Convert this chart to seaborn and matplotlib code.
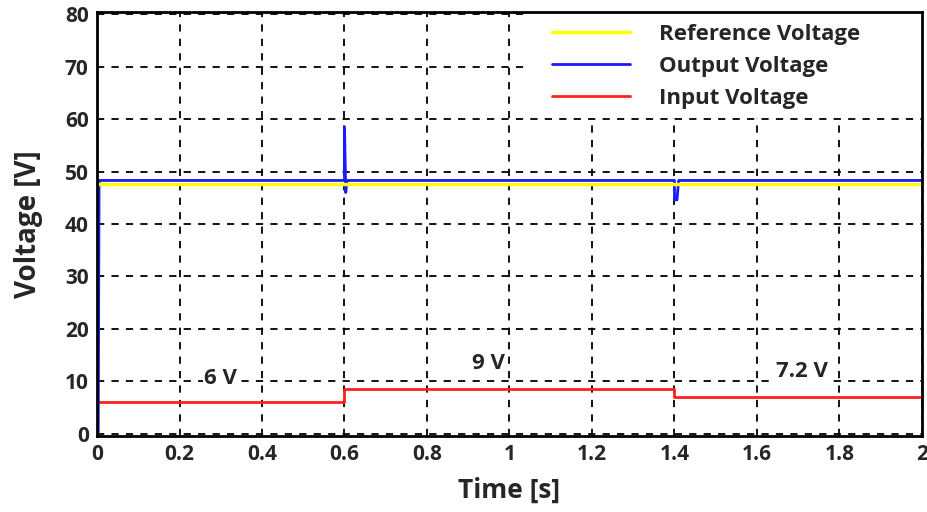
import matplotlib
matplotlib.use("Agg")
import matplotlib.pyplot as plt
from matplotlib.patches import Rectangle
import seaborn as sns

# Data
t_ref = [0.0, 2.0]
v_ref = [47.7, 47.7]

t_out = [0.003, 0.005, 0.6, 0.6, 0.603, 0.606, 0.61, 1.4, 1.4, 1.406, 1.41, 2.0]
v_out = [0.0, 48.3, 48.3, 58.5, 46.0, 48.3, 48.3, 48.3, 44.6, 44.6, 48.3, 48.3]

t_in = [0.0, 0.6, 0.6, 1.4, 1.4, 2.0]
v_in = [6.0, 6.0, 8.6, 8.6, 7.0, 7.0]

x_ticks = [0, 0.2, 0.4, 0.6, 0.8, 1, 1.2, 1.4, 1.6, 1.8, 2]
x_tick_labels = ["0", "0.2", "0.4", "0.6", "0.8", "1", "1.2", "1.4", "1.6", "1.8", "2"]
y_ticks = [0, 10, 20, 30, 40, 50, 60, 70, 80]

annotations = ["6 V", "9 V", "7.2 V"]
annot_x = [0.3, 0.95, 1.71]
annot_y = [10.6, 13.5, 11.8]

sns.set_style("white")
plt.rcParams['font.family'] = ['Open Sans', 'DejaVu Sans']
plt.rcParams['font.weight'] = 'bold'

fig = plt.figure(figsize=(9.28, 5.12), dpi=100)
ax = fig.add_axes([97/928, (512-436)/512, (922-97)/928, (436-12)/512])

ax.grid(True, color='black', linestyle=(0, (4, 4)), linewidth=1.3)
ax.set_axisbelow(True)

sns.lineplot(x=t_ref, y=v_ref, ax=ax, color='#ffff00', linewidth=2.5, label='Reference Voltage',
             sort=False, estimator=None)
sns.lineplot(x=t_out, y=v_out, ax=ax, color='#1a1aff', linewidth=2, label='Output Voltage',
             sort=False, estimator=None)
sns.lineplot(x=t_in, y=v_in, ax=ax, color='#ff2020', linewidth=2, label='Input Voltage',
             sort=False, estimator=None)
ax.lines[0].set_zorder(3)
ax.lines[1].set_zorder(2.5)

for txt, x, y in zip(annotations, annot_x, annot_y):
    ax.text(x, y, txt, fontsize=16, fontweight='bold', ha='center', va='center',
            bbox=dict(facecolor='white', edgecolor='none', pad=1))

ax.set_xlim(0, 2)
ax.set_ylim(-0.4, 80.4)
ax.set_xticks(x_ticks)
ax.set_xticklabels(x_tick_labels)
ax.set_yticks(y_ticks)
ax.tick_params(axis='both', labelsize=15, length=0, pad=6)
for lab in ax.get_xticklabels() + ax.get_yticklabels():
    lab.set_fontweight('bold')

ax.set_xlabel('Time [s]', fontsize=19, fontweight='bold', labelpad=8)
ax.set_ylabel('Voltage [V]', fontsize=20, fontweight='bold', labelpad=16)

for s in ax.spines.values():
    s.set_color('black')
    s.set_linewidth(2)
    s.set_zorder(5)

# white backing box behind legend (upper right region)
x0 = (530 - 97) / 825
y0 = (436 - 118) / 424
ax.add_patch(Rectangle((x0, y0), 1 - x0, 1 - y0, transform=ax.transAxes,
                       facecolor='white', edgecolor='none', zorder=1.5))

leg = ax.legend(loc='upper left', bbox_to_anchor=((552 - 97) / 825, (436 - 24) / 424),
                frameon=False, fontsize=16, handlelength=3.5,
                borderaxespad=0.0, labelspacing=0.5, handletextpad=1.3,
                borderpad=0.0)
leg.set_zorder(10)
for t in leg.get_texts():
    t.set_fontweight('bold')

fig.savefig('out.png', dpi=100)
